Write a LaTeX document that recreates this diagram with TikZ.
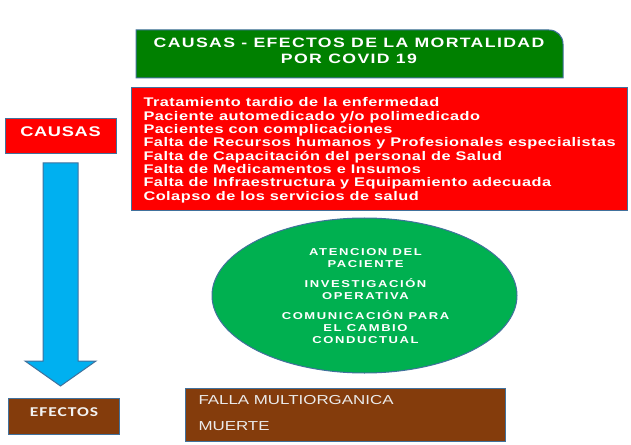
\documentclass[tikz,border=0pt]{standalone}
\usepackage{fontspec}
\setmainfont{Liberation Sans}
\newfontfamily\titlefont[FakeStretch=1.3,LetterSpace=10]{Liberation Sans}
\newfontfamily\listfont[FakeStretch=1.3,LetterSpace=4]{Liberation Sans}
\newfontfamily\causafont[FakeStretch=1.3,LetterSpace=5]{Liberation Sans}
\newfontfamily\ovalfont[FakeStretch=1.3,LetterSpace=16]{Liberation Sans}
\newfontfamily\efectofont[FakeStretch=1.3,LetterSpace=7]{Carlito}
\newfontfamily\fallafont[FakeStretch=1.3]{Liberation Sans}

\definecolor{edgeblue}{RGB}{65,113,156}
\definecolor{titlegreen}{RGB}{0,128,0}
\definecolor{ovalgreen}{RGB}{0,176,80}
\definecolor{boxred}{RGB}{255,0,0}
\definecolor{arrowblue}{RGB}{0,176,240}
\definecolor{boxbrown}{RGB}{132,60,12}

\tikzset{every picture/.style={line width=0.75pt}}
\tikzset{shapebox/.style={draw=edgeblue}}

\begin{document}
\begin{tikzpicture}[x=0.75pt,y=0.75pt,yscale=-1,xscale=1]
\useasboundingbox (0,0) rectangle (631,445);

%Shape: Rectangle with rounded corner [id:title]
\draw [shapebox, fill=titlegreen] (136,78) -- (136,30) -- (549,30) .. controls (557,30) and (563,36) .. (563,44) -- (563,78) -- cycle ;
%Shape: Rectangle [id:lista]
\draw [shapebox, fill=boxred] (131,88) rectangle (627,211) ;
%Shape: Rectangle [id:causas]
\draw [shapebox, fill=boxred] (5,119) rectangle (116,154) ;
%Shape: Down Arrow [id:flecha]
\draw [shapebox, fill=arrowblue] (43,163) -- (78,163) -- (78,361) -- (96,361) -- (60.5,386) -- (25,361) -- (43,361) -- cycle ;
%Shape: Ellipse [id:acciones]
\draw [shapebox, fill=ovalgreen] (364.5,295.5) ellipse [x radius=152.5, y radius=77.5] ;
%Shape: Rectangle [id:efectos]
\draw [shapebox, fill=boxbrown] (8,398) rectangle (119,434) ;
%Shape: Rectangle [id:falla]
\draw [shapebox, fill=boxbrown] (185,388) rectangle (505,441) ;

% Text Node
\draw (349,50.5) node [inner sep=0pt, align=center, text=white, font=\titlefont\bfseries\fontsize{10.2}{12}\selectfont] (titulo) {CAUSAS - EFECTOS DE LA MORTALIDAD\\POR COVID 19};
% Text Node
\draw (143,150.3) node [anchor=west, inner sep=0pt, align=left, text=white, font=\listfont\bfseries\fontsize{9.4}{10}\selectfont] (lista) {Tratamiento tardio de la enfermedad\\Paciente automedicado y/o polimedicado\\Pacientes con complicaciones\\Falta de Recursos humanos y Profesionales especialistas\\Falta de Capacitación del personal de Salud\\Falta de Medicamentos e Insumos\\Falta de Infraestructura y Equipamiento adecuada\\Colapso de los servicios de salud};
% Text Node
\draw (60.5,137) node [anchor=base, inner sep=0pt, text=white, font=\causafont\bfseries\fontsize{10.5}{12}\selectfont] (causas) {CAUSAS};
% Text Node
\draw (365.5,295.7) node [inner sep=0pt, align=center, text=white, font=\ovalfont\bfseries\fontsize{7.5}{9}\selectfont] (acciones) {ATENCION DEL\\PACIENTE\\[6pt]INVESTIGACIÓN\\OPERATIVA\\[6pt]COMUNICACIÓN PARA\\EL CAMBIO\\CONDUCTUAL};
% Text Node
\draw (64,416) node [anchor=base, inner sep=0pt, text={rgb,255:red,242;green,242;blue,242}, font=\efectofont\bfseries\fontsize{10.1}{12}\selectfont] (efectos) {EFECTOS};
% Text Node
\draw (198,404) node [anchor=base west, inner sep=0pt, text={rgb,255:red,235;green,235;blue,235}, font=\fallafont\fontsize{9.75}{12}\selectfont] (falla) {FALLA MULTIORGANICA};
% Text Node
\draw (198,430) node [anchor=base west, inner sep=0pt, text={rgb,255:red,235;green,235;blue,235}, font=\fallafont\fontsize{9.75}{12}\selectfont] (muerte) {MUERTE};
\end{tikzpicture}
\end{document}
